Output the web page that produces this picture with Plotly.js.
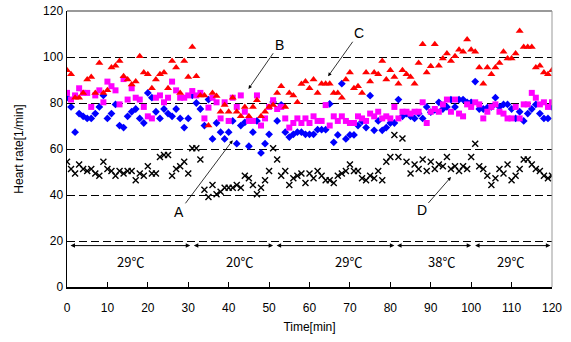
<!DOCTYPE html>
<html>
<head>
<meta charset="utf-8">
<script src="https://cdn.plot.ly/plotly-3.0.1.min.js"></script>
<style>html,body{margin:0;padding:0;background:#fff;}#chart{width:571px;height:342px;}</style>
</head>
<body>
<div id="chart"></div>
<script>
// Time axis (minutes)
const timeMin = Array.from({length: 121}, (_, i) => i);

// Series A (blue diamonds)
const seriesA = [82.3,78.3,67.3,75.4,74.2,73.3,73.3,75.4,78.3,83.3,73.3,75.4,79.4,70.2,69.3,74.2,76.2,77.4,73.3,71.3,
84.4,82.3,76.2,73.3,77.4,75.4,74.2,77.4,73.3,69.3,73.3,83.3,80,77.4,70.2,81.5,64.4,71.3,67.3,64.4,
67.3,72.2,62.3,70.2,71.6,61.2,67.3,72.2,58.3,62.3,66.4,80.4,72.2,79.2,67.3,65.2,66.4,67.3,67.3,66.4,
66.4,66.4,68.4,68.4,68.4,79.6,62.9,66.1,88.4,64.4,66.1,66.1,70.2,72,69.3,83.2,68.1,72.2,68.1,69.3,
71.3,71.3,81.5,74.2,75.4,74.2,73.3,75.4,73.3,78.3,76,77,80.3,77.4,78.3,81.5,78.3,81.5,81.5,80.3,
80.3,89.3,77.4,77.4,78,78.3,82.3,78.3,79.4,79.4,77.4,73.3,76.2,72.2,75.4,77.4,79.4,75.4,73.3,73.3,78.3];

// Series B (magenta squares)
const seriesB = [84.4,81.5,83.3,86.4,84.4,84.4,78.3,83.3,85.5,80.3,89.3,87.3,85.5,79.4,90.4,81.5,86.4,82.3,81.5,78.3,
74.2,73.3,82.3,83.3,80.3,82.3,89.3,85.5,82.3,82.3,83.3,85.2,83.3,84.4,73.3,78,82.3,80.3,73.3,80.3,
72.2,82.3,78.3,83.3,76.2,72.2,72.2,83.3,70.2,73.3,78.3,81.2,77.4,78.3,73.3,69.3,71.3,73.3,71.3,73.3,
71.3,74.2,72.2,72.2,79.1,70.2,74.2,72.2,74.2,72.2,71.3,71.3,74.2,73.3,72.2,75.4,74.2,76.2,73.3,74.2,
73.3,78.3,73.3,76.2,76.2,75.4,76.2,76.2,80.3,71.3,76.2,77.4,76.2,79.4,81.5,76.2,81.5,75.4,74.2,79.4,
78.3,80.3,79.4,73.3,76.2,78.3,79.4,76.2,75.4,73.3,73.3,78.3,73.3,79.4,79.4,84.4,82.3,79.4,80.3,78.3,80.3];

// Series C (red triangles)
const seriesC = [94.2,92.5,82.3,82.3,84.4,90.2,91.3,84.4,97.4,84.4,85.5,95.4,96.2,98.3,91.6,90.2,88,89.3,100.3,93.3,
92.5,86.4,90.2,92.5,93.3,86.4,98.3,95.4,84.4,98.3,91.3,104.4,91.6,83.3,83.3,70.2,84.4,83,76.2,79.1,
76.2,82.3,76.2,74.2,78.3,74.2,78.3,81.2,74.2,76.2,78.3,79.1,84.4,87.3,78.3,84.4,83.3,80.3,88.3,89.3,
86.4,90.2,84.4,88.4,88.4,88.4,84.4,84.4,82.3,90.2,93.3,86.4,87.3,84.4,93.3,89.3,93.3,92.5,98.3,90.2,
94.2,91.3,88.4,94.2,92.5,91.3,88.4,97.4,105.5,93.3,96,105.5,96.2,99.4,101.5,98.3,100.3,103.2,102.3,107.6,
103.2,102.3,95.4,88.4,95.4,92.5,95.4,97.4,102.3,99.4,99.4,101.5,111.3,104.4,104.4,104.4,95.4,96.2,93.3,92.5,94.2];

// Series D (black crosses)
const seriesD = [54.5,51.3,49.3,53.3,51.3,50.4,51.3,49.3,48.4,54.5,51.3,50.4,48.4,50.4,49.3,50.4,50.4,46.4,49.3,48.4,
52.5,49.3,49.3,56.5,57.4,57.4,48.4,51.3,52.5,54.5,49.3,60.3,60.3,55.4,42.3,39.1,44.3,40.3,41.4,43.2,
43.2,43.2,44.3,43.2,48.4,47.3,44.3,40.3,43.2,46.4,50.4,60.3,55.4,48.4,50.4,44.3,47.3,48.4,49.3,45.2,
49.3,47.3,50.4,48.4,46.4,46.4,45.2,48.4,49.3,50.4,53.3,50.4,50.4,47.3,46.4,48.4,47.3,50.4,46.4,54.5,
56.5,66.1,56.5,64.6,54.5,49.3,53.3,51.3,55.4,50.4,54.5,51.3,53.3,52.5,56.5,51.3,52.5,50.4,52.5,51.3,
56.5,62.3,52.5,51.3,48.4,44.3,47.3,51.3,49.3,53.3,46.4,48.4,51.3,55.4,55.4,53.3,51.3,50.4,48.4,47.3,48.4];

// Temperature phases
const phaseStart = [0.5, 31, 51.5, 81.3, 100.6];
const phaseEnd   = [30.5, 51, 81, 100, 119.6];
const phaseLabel = ["29℃", "20℃", "29℃", "38℃", "29℃"];
const phaseLabelX = [15.7, 42.8, 69.6, 92.7, 109.7];

// Series label callouts: [label, labelX, labelY, tipX, tipY]
const callouts = [
  ["A", 27.7, 32.6, 41, 63.8],
  ["B", 52.5, 105.4, 44.9, 86.1],
  ["C", 72.3, 110.6, 64.6, 91.6],
  ["D", 87.8, 33.3, 95, 47.8]
];

const fontMain = "Liberation Sans, Arial, sans-serif";
const fontJP = "Noto Sans CJK JP, Liberation Sans, sans-serif";

const traces = [
  {x: timeMin, y: seriesA, type: "scatter", mode: "markers", name: "A",
   marker: {symbol: "diamond", size: 6, color: "#0000FF"}},
  {x: timeMin, y: seriesB, type: "scatter", mode: "markers", name: "B",
   marker: {symbol: "square", size: 6, color: "#FF00FF"}},
  {x: timeMin, y: seriesC, type: "scatter", mode: "markers", name: "C",
   marker: {symbol: "triangle-up", size: 7, color: "#FF0000"}},
  {x: timeMin, y: seriesD, type: "scatter", mode: "markers", name: "D",
   marker: {symbol: "x-thin-open", size: 6, color: "#000000", line: {width: 1.4, color: "#000000"}}}
];

const annotations = [];
for (let i = 0; i < phaseStart.length; i++) {
  annotations.push({x: phaseEnd[i], y: 18, ax: phaseStart[i], ay: 18, xref: "x", yref: "y", axref: "x", ayref: "y",
    text: "", showarrow: true, arrowhead: 2, startarrowhead: 2, arrowside: "end+start", arrowsize: 0.9, arrowwidth: 1, arrowcolor: "#000"});
  annotations.push({x: phaseLabelX[i], y: 11.2, xref: "x", yref: "y", text: phaseLabel[i], showarrow: false,
    font: {family: fontJP, size: 13, color: "#000"}});
}
callouts.forEach(c => {
  annotations.push({x: c[3], y: c[4], ax: c[1], ay: c[2], xref: "x", yref: "y", axref: "x", ayref: "y",
    text: c[0], showarrow: true, arrowhead: 2, arrowsize: 0.9, arrowwidth: 0.8, arrowcolor: "#000", standoff: 0,
    font: {family: fontMain, size: 14, color: "#000"}});
});

const layout = {
  width: 571, height: 342,
  margin: {l: 67, r: 19, t: 11, b: 55},
  paper_bgcolor: "#fff", plot_bgcolor: "#fff",
  showlegend: false,
  font: {family: fontMain, size: 12, color: "#000"},
  xaxis: {range: [0, 120], tick0: 0, dtick: 10, ticks: "inside", ticklen: 5, tickcolor: "#000",
    showline: true, linecolor: "#000", linewidth: 1.5, showgrid: false, zeroline: false, ticklabelstandoff: 9,
    title: {text: "Time[min]", font: {size: 12}, standoff: 8}, tickfont: {size: 12}},
  yaxis: {range: [0, 120], tick0: 0, dtick: 20, ticks: "inside", ticklen: 5, tickcolor: "#000",
    showline: true, linecolor: "#000", linewidth: 1.5,
    showgrid: true, gridcolor: "#000", gridwidth: 1, griddash: "8px,4px", zeroline: false,
    title: {text: "Heart rate[1/min]", font: {size: 12}, standoff: 17}, tickfont: {size: 12}},
  shapes: [
    {type: "line", xref: "paper", yref: "paper", x0: 0, x1: 1, y0: 1, y1: 1, line: {color: "#999", width: 2}},
    {type: "line", xref: "paper", yref: "paper", x0: 1, x1: 1, y0: 0, y1: 1, line: {color: "#999", width: 1}}
  ],
  annotations: annotations
};

Plotly.newPlot("chart", traces, layout, {displayModeBar: false, staticPlot: true});
</script>
</body>
</html>
